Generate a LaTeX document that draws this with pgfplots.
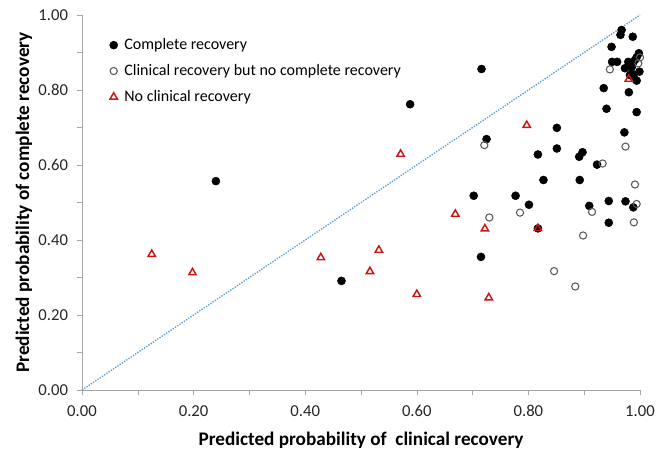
\documentclass[border=0pt]{standalone}
\usepackage{pgfplots}
\pgfplotsset{compat=1.18}
\usepackage{fontspec}
\setmainfont{Carlito}
\definecolor{axgray}{RGB}{166,166,166}
\definecolor{diag}{RGB}{91,155,213}
\definecolor{tri}{RGB}{204,20,20}
\definecolor{opengray}{RGB}{90,90,90}
\begin{document}
\begin{tikzpicture}
\path[use as bounding box] (-61.5pt,-44.25pt) rectangle (438.75pt,292.5pt);
\begin{axis}[
  scale only axis,
  width=418.5pt, height=281.25pt,
  xmin=0, xmax=1, ymin=0, ymax=1,
  axis lines=left,
  axis line style={axgray, -},
  xtick={0,0.2,...,1.0}, ytick={0,0.2,...,1.0},
  minor xtick={0.1,0.3,0.5,0.7,0.9},
  minor ytick={0.1,0.3,0.5,0.7,0.9},
  tick align=outside,
  major tick length=4pt, minor tick length=4pt,
  tick style={axgray, thin},
  /pgf/number format/assume math mode=true,
  /pgf/number format/.cd, fixed, fixed zerofill, precision=2, /pgfplots/.cd,
  ticklabel style={font=\fontsize{12.5}{14}\selectfont, text=black!85},
  xticklabel style={yshift=-4pt},
  yticklabel style={xshift=-3pt},
  xlabel={\textbf{Predicted probability of\ \ clinical recovery}},
  ylabel={\textbf{Predicted probability of complete recovery}},
  label style={font=\fontsize{14.4}{16}\selectfont},
  xlabel style={at={(axis description cs:0.5,-0.1333)}, anchor=center},
  ylabel style={at={(axis description cs:-0.104,0.5)}, anchor=center},
  legend style={draw=none, fill=none, at={(axis cs:0.042,0.952)}, anchor=north west,
    font=\fontsize{12}{14}\selectfont, row sep=5.6pt, cells={anchor=west},
    nodes={inner xsep=2.5pt},
    /tikz/every odd column/.append style={column sep=2.5pt}},
  legend cell align=left,
  clip=false,
]
\addplot[only marks, mark=*, mark size=3pt, black, mark options={fill=black}] coordinates {
(0.240,0.557)(0.465,0.291)(0.588,0.762)(0.716,0.856)(0.725,0.669)(0.715,0.355)
(0.702,0.518)(0.777,0.518)(0.801,0.494)(0.817,0.431)(0.817,0.628)(0.827,0.560)
(0.851,0.699)(0.851,0.644)(0.891,0.622)(0.897,0.634)(0.892,0.560)(0.923,0.601)
(0.909,0.491)(0.944,0.446)(0.944,0.504)(0.974,0.503)(0.988,0.487)(0.972,0.687)
(0.940,0.750)(0.994,0.741)(0.935,0.805)(0.980,0.794)(0.949,0.915)(0.967,0.960)
(0.965,0.947)(0.987,0.942)(0.950,0.875)(0.959,0.875)(0.973,0.858)(0.979,0.875)
(0.987,0.871)(0.991,0.880)(0.994,0.887)(0.998,0.898)(0.988,0.840)(0.994,0.825)
(0.999,0.849)(0.985,0.860)(0.990,0.830)(0.982,0.840)
};
\addlegendentry{Complete recovery}
\addplot[only marks, mark=o, mark size=2.7pt, opengray, mark options={line width=0.8pt}] coordinates {
(0.721,0.653)(0.730,0.460)(0.785,0.473)(0.846,0.317)(0.884,0.276)(0.898,0.412)
(0.914,0.475)(0.933,0.604)(0.946,0.855)(0.974,0.649)(0.991,0.548)(0.989,0.447)
(0.994,0.496)(1.000,0.887)(0.997,0.871)
};
\addlegendentry{Clinical recovery but no complete recovery}
\addplot[only marks, mark=triangle, mark size=3.2pt, tri, mark options={line width=1.1pt}] coordinates {
(0.125,0.362)(0.198,0.313)(0.428,0.353)(0.516,0.316)(0.532,0.373)(0.571,0.629)
(0.600,0.255)(0.669,0.469)(0.722,0.430)(0.729,0.246)(0.797,0.706)(0.817,0.431)
(0.980,0.829)
};
\addlegendentry{No clinical recovery}
\addplot[diag, densely dotted, line width=1pt, forget plot] coordinates {(0,0)(1,1)};
\end{axis}
\end{tikzpicture}
\end{document}
